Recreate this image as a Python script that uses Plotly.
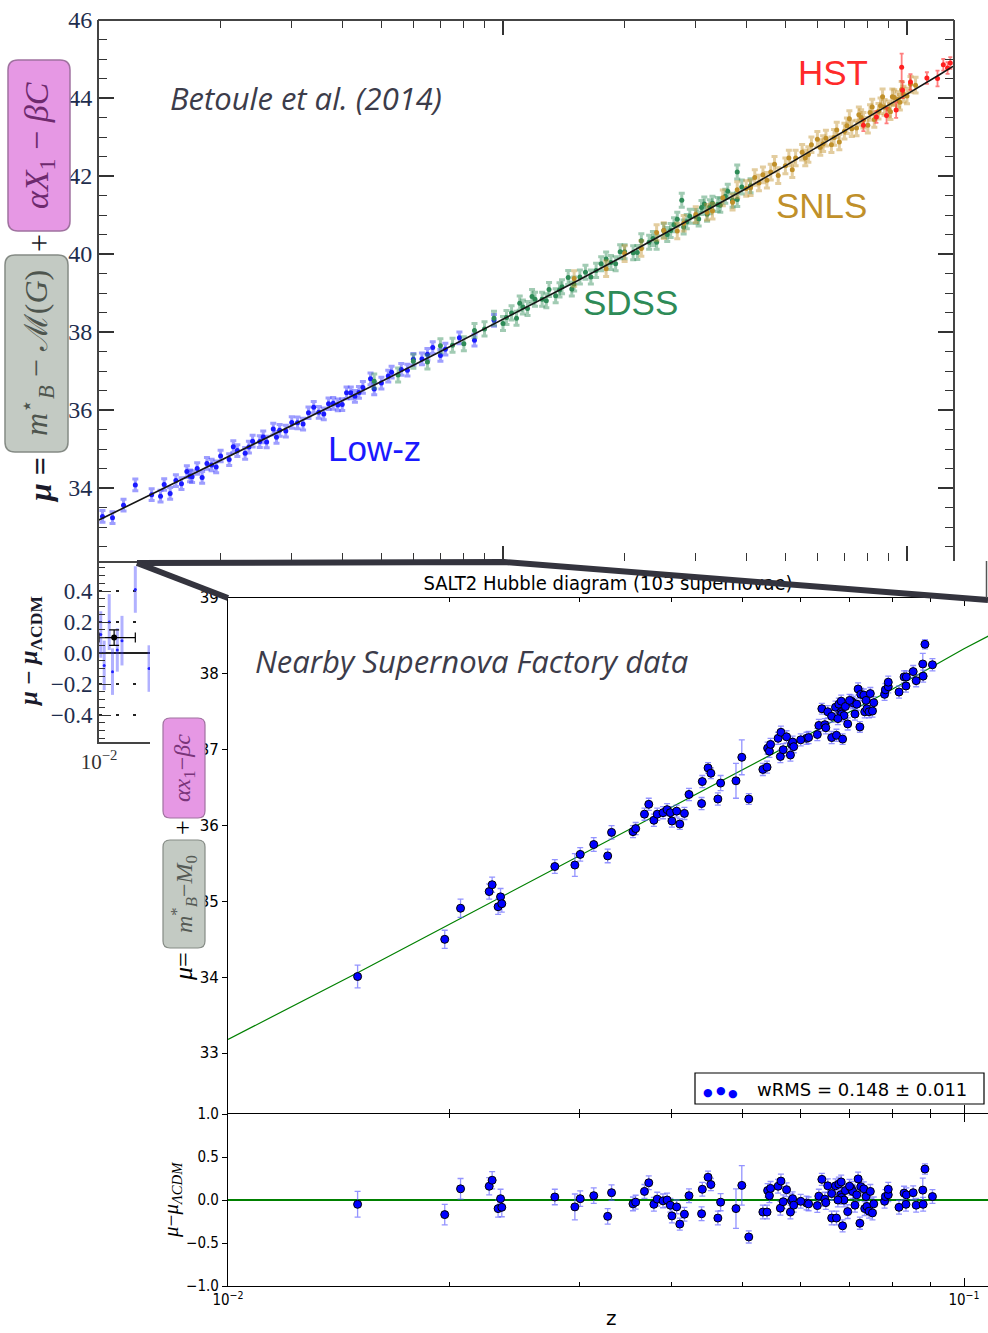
import plotly.graph_objects as go

W, H = 988, 1333


def px(x):
    return x / W


def py(y):
    return 1 - y / H


# ---------------- Betoule et al. (2014) : top Hubble diagram ----------------
LINE_Z = [0.01, 0.015, 0.02, 0.03, 0.04, 0.05, 0.07, 0.1, 0.15, 0.2, 0.3, 0.4, 0.5,
          0.6, 0.7, 0.8, 0.9, 1.0, 1.2, 1.3]
LINE_MU = [33.18, 34.07, 34.70, 35.59, 36.24, 36.73, 37.50, 38.32, 39.27, 39.96, 40.96,
           41.68, 42.26, 42.74, 43.15, 43.50, 43.82, 44.10, 44.59, 44.81]

LOWZ_Z = [0.0102, 0.0108, 0.0115, 0.0123, 0.0135, 0.0142, 0.0145, 0.015, 0.0155, 0.016,
          0.0165, 0.0168, 0.017, 0.0175, 0.018, 0.0185, 0.019, 0.0195, 0.020, 0.021,
          0.0215, 0.022, 0.023, 0.0235, 0.024, 0.025, 0.0255, 0.026, 0.027, 0.0275,
          0.028, 0.029, 0.030, 0.031, 0.032, 0.033, 0.034, 0.035, 0.036, 0.037,
          0.038, 0.039, 0.040, 0.041, 0.042, 0.043, 0.044, 0.045, 0.047, 0.048,
          0.050, 0.052, 0.053, 0.056, 0.058, 0.060, 0.063, 0.065, 0.067, 0.070,
          0.072, 0.078, 0.085, 0.095]
LOWZ_MU = [33.27, 33.24, 33.56, 34.08, 33.83, 33.79, 34.09, 33.86, 34.19, 34.11,
           34.42, 34.31, 34.29, 34.50, 34.27, 34.63, 34.59, 34.54, 34.82, 34.73,
           35.06, 34.96, 34.89, 35.05, 35.20, 35.19, 35.31, 35.18, 35.51, 35.30,
           35.48, 35.46, 35.68, 35.67, 35.64, 35.93, 36.07, 35.94, 35.90, 36.16,
           36.17, 36.13, 36.14, 36.44, 36.44, 36.35, 36.45, 36.58, 36.80, 36.54,
           36.69, 36.87, 36.97, 37.04, 37.02, 37.30, 37.31, 37.43, 37.60, 37.40,
           37.56, 37.85, 37.79, 38.30]

SDSS_Z = [0.048, 0.055, 0.06, 0.065, 0.07, 0.075, 0.08, 0.085, 0.09, 0.095,
          0.1, 0.102, 0.105, 0.108, 0.11, 0.112, 0.115, 0.118, 0.12, 0.125,
          0.128, 0.13, 0.135, 0.138, 0.14, 0.145, 0.148, 0.15, 0.155, 0.16,
          0.165, 0.17, 0.175, 0.18, 0.185, 0.19, 0.195, 0.2, 0.21, 0.215,
          0.22, 0.23, 0.235, 0.24, 0.25, 0.255, 0.26, 0.265, 0.27, 0.277,
          0.28, 0.285, 0.29, 0.3, 0.305, 0.31, 0.315, 0.32, 0.325, 0.33,
          0.34, 0.345, 0.355, 0.36, 0.37, 0.38, 0.38, 0.39, 0.41]
SDSS_MU = [36.74, 36.90, 37.25, 37.23, 37.65, 37.66, 37.70, 38.04, 38.08, 38.35,
           38.22, 38.37, 38.49, 38.35, 38.74, 38.64, 38.60, 38.91, 38.84, 38.84,
           38.80, 39.09, 38.93, 39.08, 39.16, 39.40, 39.10, 39.23, 39.41, 39.53,
           39.41, 39.58, 39.75, 39.87, 39.78, 39.75, 40.06, 40.06, 40.03, 40.04,
           40.34, 40.30, 40.40, 40.30, 40.60, 40.50, 40.60, 40.75, 40.89, 41.38,
           40.69, 40.83, 40.97, 40.96, 40.90, 41.19, 41.28, 41.02, 41.21, 41.30,
           41.27, 41.25, 41.48, 41.61, 41.38, 41.40, 42.10, 41.72, 41.75]

SNLS_Z = [0.15, 0.18, 0.2, 0.22, 0.24, 0.25, 0.27, 0.28, 0.3, 0.32,
          0.33, 0.35, 0.37, 0.38, 0.4, 0.41, 0.42, 0.43, 0.44, 0.45,
          0.46, 0.47, 0.48, 0.5, 0.51, 0.52, 0.53, 0.55, 0.56, 0.57,
          0.58, 0.6, 0.61, 0.62, 0.63, 0.65, 0.66, 0.67, 0.68, 0.7,
          0.71, 0.72, 0.73, 0.75, 0.76, 0.77, 0.78, 0.8, 0.81, 0.82,
          0.83, 0.85, 0.86, 0.87, 0.88, 0.9, 0.91, 0.92, 0.93, 0.95,
          0.96, 0.97, 0.98, 1.0, 1.02, 1.05]
SNLS_MU = [39.37, 39.62, 40.01, 40.14, 40.55, 40.60, 40.59, 40.79, 41.01, 41.07,
           41.10, 41.44, 41.33, 41.65, 41.68, 41.70, 41.96, 41.82, 42.03, 41.89,
           42.10, 42.30, 42.01, 42.26, 42.46, 42.16, 42.46, 42.61, 42.46, 42.55,
           42.80, 42.94, 42.73, 42.83, 42.97, 42.80, 42.99, 43.18, 42.87, 43.15,
           43.29, 43.47, 43.21, 43.23, 43.57, 43.50, 43.43, 43.30, 43.63, 43.77,
           43.45, 43.66, 43.80, 44.03, 43.76, 43.72, 43.65, 44.03, 44.01, 43.96,
           43.89, 44.22, 44.10, 44.05, 44.35, 44.33]

HST_Z = [0.78, 0.84, 0.89, 0.94, 0.97, 0.975, 1.02, 1.12, 1.19, 1.23, 1.26, 1.28]
HST_MU = [43.30, 43.51, 43.55, 43.69, 44.79, 44.20, 44.41, 44.51, 44.50, 44.85, 44.77, 44.90]
HST_ERR = [0.15, 0.15, 0.20, 0.20, 0.35, 0.20, 0.20, 0.15, 0.20, 0.15, 0.15, 0.15]

LOWZ_ERR, SDSS_ERR, SNLS_ERR = 0.15, 0.18, 0.20

# Betoule residual panel (only the visible left strip)
BRES_Z = [0.0101, 0.0103, 0.0106, 0.0108, 0.0111, 0.0114, 0.0123, 0.0133]
BRES_R = [0.12, -0.08, 0.20, -0.12, 0.02, 0.08, 0.41, -0.10]
BRES_ERR = [0.15, 0.16, 0.18, 0.15, 0.14, 0.16, 0.15, 0.15]
BIN_Z = [0.0109]
BIN_R = [0.10]
BIN_ERR = [0.05]
BIN_ZLO = [0.0100]
BIN_ZHI = [0.0123]

# ---------------- Nearby Supernova Factory (SALT2 Hubble diagram) ----------------
SNF_LINE_Z = [0.01, 0.015, 0.02, 0.03, 0.04, 0.05, 0.06, 0.07, 0.08, 0.09, 0.1, 0.108]
SNF_LINE_MU = [33.18, 34.06, 34.70, 35.60, 36.24, 36.74, 37.14, 37.50, 37.80, 38.08, 38.33, 38.50]

SNF_Z = [0.0150, 0.0197, 0.0207, 0.02264, 0.02285, 0.02328, 0.02346, 0.02355, 0.0278, 0.0296,
         0.0301, 0.0314, 0.0328, 0.0332, 0.0355, 0.0358, 0.0368, 0.0373, 0.0379, 0.0383,
         0.0390, 0.0395, 0.0399, 0.0401, 0.0407, 0.0411, 0.0417, 0.0423, 0.0440, 0.0441,
         0.0449, 0.0453, 0.0463, 0.0467, 0.0490, 0.0499, 0.0510, 0.0533, 0.0540, 0.0541,
         0.0544, 0.0546, 0.0559, 0.0563, 0.0564, 0.0568, 0.0581, 0.0583, 0.0585, 0.0587,
         0.0611, 0.0615, 0.0632, 0.0635, 0.0641, 0.0647, 0.0649, 0.0653, 0.0661, 0.0661,
         0.0669, 0.0671, 0.0676, 0.0680, 0.0681, 0.0682, 0.0684, 0.0687, 0.0690, 0.0695,
         0.0703, 0.0706, 0.0711, 0.0718, 0.0722, 0.0724, 0.0731, 0.0733, 0.0736, 0.0738,
         0.0743, 0.0746, 0.0751, 0.0754, 0.0780, 0.0782, 0.0789, 0.0789, 0.0816, 0.0829,
         0.0834, 0.0835, 0.0853, 0.0861, 0.0879, 0.0880, 0.0885, 0.0906,
         0.0674, 0.0699, 0.0715, 0.0600, 0.0574]
SNF_MU = [34.01, 34.50, 34.91, 35.13, 35.22, 34.93, 35.06, 34.97, 35.46, 35.48,
          35.62, 35.75, 35.60, 35.91, 35.92, 35.96, 36.15, 36.28, 36.07, 36.15,
          36.17, 36.21, 36.17, 36.06, 36.19, 36.02, 36.16, 36.41, 36.29, 36.58,
          36.76, 36.69, 36.35, 36.56, 36.59, 36.90, 36.35, 36.74, 36.77, 37.02,
          36.98, 37.07, 37.15, 36.91, 37.23, 37.00, 36.93, 37.07, 37.10, 37.04,
          37.15, 37.16, 37.20, 37.32, 37.54, 37.33, 37.29, 37.50, 37.44, 37.16,
          37.56, 37.19, 37.60, 37.49, 37.64, 37.47, 37.14, 37.45, 37.57, 37.34,
          37.64, 37.62, 37.47, 37.80, 37.30, 37.73, 37.72, 37.50, 37.65, 37.54,
          37.50, 37.74, 37.51, 37.62, 37.73, 37.79, 37.83, 37.89, 37.76, 37.96,
          37.84, 37.96, 38.03, 37.91, 38.13, 37.97, 38.39, 38.12,
          37.41, 37.65, 37.60, 37.13, 37.17]
SNF_RESID = [-0.05, -0.17, 0.13, 0.16, 0.23, -0.10, 0.015, -0.085, 0.035, -0.08,
             0.015, 0.05, -0.19, 0.085, -0.045, -0.025, 0.10, 0.20, -0.05, 0.01,
             -0.01, 0.0, -0.06, -0.185, -0.08, -0.28, -0.165, 0.05, -0.16, 0.125,
             0.265, 0.18, -0.21, -0.025, -0.10, 0.17, -0.43, -0.14, -0.14, 0.11,
             0.05, 0.135, 0.16, -0.095, 0.22, -0.02, -0.14, -0.01, 0.015, -0.06,
             -0.035, -0.045, -0.065, 0.045, 0.24, 0.01, -0.03, 0.165, 0.075, -0.21,
             0.165, -0.21, 0.185, 0.06, 0.21, 0.03, -0.30, 0.0, 0.11, -0.135,
             0.135, 0.10, -0.06, 0.245, -0.27, 0.155, 0.13, -0.10, 0.04, -0.075,
             -0.13, 0.10, -0.15, -0.045, -0.015, 0.04, 0.06, 0.125, -0.085, 0.08,
             -0.05, 0.06, 0.085, -0.06, 0.115, -0.05, 0.36, 0.04,
             0.0, 0.16, 0.06, -0.015, 0.12]
SNF_ERR = [0.15, 0.12, 0.12, 0.10, 0.10, 0.10, 0.11, 0.11, 0.09, 0.15,
           0.09, 0.09, 0.09, 0.09, 0.08, 0.08, 0.08, 0.08, 0.08, 0.08,
           0.08, 0.08, 0.08, 0.08, 0.08, 0.07, 0.08, 0.08, 0.08, 0.08,
           0.07, 0.07, 0.08, 0.10, 0.23, 0.23, 0.07, 0.08, 0.08, 0.08,
           0.08, 0.08, 0.08, 0.08, 0.08, 0.08, 0.08, 0.08, 0.08, 0.08,
           0.08, 0.08, 0.08, 0.08, 0.07, 0.08, 0.08, 0.08, 0.08, 0.08,
           0.08, 0.08, 0.08, 0.08, 0.08, 0.08, 0.07, 0.08, 0.08, 0.08,
           0.08, 0.08, 0.08, 0.08, 0.07, 0.08, 0.08, 0.08, 0.08, 0.08,
           0.08, 0.08, 0.08, 0.08, 0.08, 0.08, 0.08, 0.08, 0.08, 0.08,
           0.08, 0.08, 0.08, 0.08, 0.14, 0.08, 0.06, 0.08,
           0.08, 0.08, 0.08, 0.08, 0.08]

SNF_TITLE = "SALT2 Hubble diagram (103 supernovae)"
WRMS_TEXT = "wRMS = 0.148 \u00b1 0.011"

# ---------------------------------------------------------------------------
fig = go.Figure()

samples = [
    (LOWZ_Z, LOWZ_MU, LOWZ_ERR, "#1a1aff", "rgba(40,40,255,0.45)"),
    (SDSS_Z, SDSS_MU, SDSS_ERR, "#2e8b57", "rgba(46,139,87,0.45)"),
    (SNLS_Z, SNLS_MU, SNLS_ERR, "#c0902a", "rgba(192,144,42,0.45)"),
]
for zz, mm, ee, col, ecol in samples:
    fig.add_trace(go.Scatter(
        x=zz, y=mm, mode="markers", xaxis="x", yaxis="y",
        marker=dict(size=5, color=col, line=dict(width=0)),
        error_y=dict(type="constant", value=ee, color=ecol, thickness=3, width=3),
        hoverinfo="skip"))
fig.add_trace(go.Scatter(
    x=HST_Z, y=HST_MU, mode="markers", xaxis="x", yaxis="y",
    marker=dict(size=5, color="#ff2020"),
    error_y=dict(type="data", array=HST_ERR, color="rgba(255,40,40,0.6)", thickness=1.8, width=2),
    hoverinfo="skip"))
fig.add_trace(go.Scatter(x=LINE_Z, y=LINE_MU, mode="lines", xaxis="x", yaxis="y",
                         line=dict(color="#151515", width=1.6), hoverinfo="skip"))

# Betoule residual strip
fig.add_trace(go.Scatter(
    x=BRES_Z, y=BRES_R, mode="markers", xaxis="x2", yaxis="y2",
    marker=dict(size=3, color="#2020ff"),
    error_y=dict(type="data", array=BRES_ERR, color="rgba(60,60,255,0.4)", thickness=3, width=0),
    hoverinfo="skip"))
fig.add_trace(go.Scatter(
    x=BIN_Z, y=BIN_R, mode="markers", xaxis="x2", yaxis="y2",
    marker=dict(size=6, color="black"),
    error_y=dict(type="data", array=BIN_ERR, color="black", thickness=1.2, width=5),
    error_x=dict(type="data", symmetric=False,
                 array=[BIN_ZHI[0] - BIN_Z[0]], arrayminus=[BIN_Z[0] - BIN_ZLO[0]],
                 color="black", thickness=1.2, width=5),
    hoverinfo="skip"))

# SNfactory main panel
fig.add_trace(go.Scatter(x=SNF_LINE_Z, y=SNF_LINE_MU, mode="lines", xaxis="x3", yaxis="y3",
                         line=dict(color="#008000", width=1.2), hoverinfo="skip"))
fig.add_trace(go.Scatter(
    x=SNF_Z, y=SNF_MU, mode="markers", xaxis="x3", yaxis="y3",
    marker=dict(size=8, color="#0000ff", line=dict(color="black", width=1)),
    error_y=dict(type="data", array=SNF_ERR, color="rgba(90,90,255,0.65)", thickness=1.3, width=3),
    hoverinfo="skip"))
# SNfactory residual panel
fig.add_trace(go.Scatter(
    x=SNF_Z, y=SNF_RESID, mode="markers", xaxis="x4", yaxis="y4",
    marker=dict(size=8, color="#0000ff", line=dict(color="black", width=1)),
    error_y=dict(type="data", array=SNF_ERR, color="rgba(90,90,255,0.65)", thickness=1.3, width=3),
    hoverinfo="skip"))
# SNfactory title, drawn in a hidden strip so the callout passes over it
fig.add_trace(go.Scatter(
    x=[0.5], y=[0.5], mode="text", xaxis="x5", yaxis="y5",
    text=[SNF_TITLE], textposition="middle center", cliponaxis=False,
    textfont=dict(family="DejaVu Sans Condensed, DejaVu Sans", size=20, color="black"),
    hoverinfo="skip"))

minor_top = [m * 10 ** e for e in (-2, -1) for m in range(2, 10)]
minor_snf = [m * 0.01 for m in range(2, 10)]
LOGR_TOP = [-2, -2 + (953 - 99) / 404]
LOGR_RES = [-2, -2 + (150 - 99) / 404]
LOGR_SNF = [-2, -2 + (988 - 228) / 736]

serif = "Liberation Serif, DejaVu Serif, serif"
navy = "#1e2d4d"

fig.update_layout(
    width=W, height=H, margin=dict(l=0, r=0, t=0, b=0, autoexpand=False),
    paper_bgcolor="white", plot_bgcolor="rgba(0,0,0,0)", showlegend=False,
    xaxis=dict(domain=[px(99), px(953)], type="log", range=LOGR_TOP, anchor="y",
               automargin=False,
               showticklabels=False, ticks="inside", tickvals=[0.01, 0.1, 1.0], ticklen=15,
               tickwidth=1.5, tickcolor="#333", mirror="ticks", showline=False,
               showgrid=False, zeroline=False,
               minor=dict(ticks="inside", tickvals=minor_top, ticklen=8, tickcolor="#333",
                          tickwidth=1.2, showgrid=False)),
    yaxis=dict(domain=[py(561), py(20)], range=[46 - (561 - 20) / 39, 46], anchor="x",
               automargin=False,
               tickvals=list(range(34, 47, 2)), ticks="inside", ticklen=15, tickwidth=1.5,
               tickcolor="#333", mirror="ticks", showline=True, linecolor="#444", linewidth=2,
               minor=dict(ticks="inside", dtick=0.5, tick0=0, ticklen=8, tickcolor="#333",
                          tickwidth=1.2),
               tickfont=dict(family=serif, size=24, color=navy),
               showgrid=False, zeroline=False),
    xaxis2=dict(domain=[px(99), px(150)], type="log", range=LOGR_RES, anchor="y2",
                automargin=False,
                tickvals=[0.01], ticktext=["10<sup>\u22122</sup>"], ticks="inside", ticklen=12,
                tickcolor="#333", showline=True, linecolor="#444", linewidth=2,
                tickfont=dict(family=serif, size=21, color="#333"), showgrid=False,
                zeroline=False),
    yaxis2=dict(domain=[py(742), py(561)], range=[-0.574, 0.594], anchor="x2",
                automargin=False,
                tickvals=[-0.4, -0.2, 0, 0.2, 0.4], tickformat=".1f", ticks="inside",
                ticklen=12, tickcolor="#333", showline=True, linecolor="#444", linewidth=2,
                minor=dict(ticks="inside", dtick=0.05, ticklen=6, tickcolor="#333"),
                showgrid=True, gridcolor="#222", griddash="3px,14px", gridwidth=2,
                zeroline=True, zerolinecolor="#222", zerolinewidth=1.5,
                tickfont=dict(family=serif, size=23, color=navy)),
    xaxis3=dict(domain=[px(228), 1], type="log", range=LOGR_SNF, anchor="y3",
                automargin=False,
                showticklabels=False, tickvals=[0.01, 0.1], ticks="inside", ticklen=8,
                tickcolor="black", mirror="ticks", showline=True, linecolor="black",
                linewidth=1.3, minor=dict(ticks="inside", tickvals=minor_snf, ticklen=4,
                                          tickcolor="black"),
                showgrid=False, zeroline=False),
    yaxis3=dict(domain=[py(1113), py(598)], range=[33 - (1113 - 1053) / 76, 39.0], anchor="x3",
                automargin=False,
                tickvals=list(range(33, 40)), ticks="outside", ticklen=5, tickcolor="black",
                showline=True, mirror=True, linecolor="black", linewidth=1.3,
                tickfont=dict(family="DejaVu Sans", size=15, color="black"),
                showgrid=False, zeroline=False),
    xaxis4=dict(domain=[px(228), 1], type="log", range=LOGR_SNF, anchor="y4",
                automargin=False,
                tickvals=[0.01, 0.1], ticktext=["10<sup>\u22122</sup>", "10<sup>\u22121</sup>"],
                ticks="inside", ticklen=8, tickcolor="black", mirror="ticks", showline=True,
                linecolor="black", linewidth=1.3,
                minor=dict(ticks="inside", tickvals=minor_snf, ticklen=4, tickcolor="black"),
                tickfont=dict(family="DejaVu Sans Condensed, DejaVu Sans", size=15, color="black"),
                showgrid=False, zeroline=False),
    yaxis4=dict(domain=[py(1286), py(1114)], range=[-1, 1], anchor="x4",
                automargin=False,
                tickvals=[-1, -0.5, 0, 0.5, 1], tickformat=".1f", ticks="outside", ticklen=5,
                tickcolor="black", showline=True, mirror=True, linecolor="black", linewidth=1.3,
                tickfont=dict(family="DejaVu Sans Condensed, DejaVu Sans", size=15, color="black"),
                showgrid=False, zeroline=True, zerolinecolor="#008000", zerolinewidth=1.6),
    xaxis5=dict(domain=[px(228), 1], range=[0, 1], anchor="y5", visible=False,
                automargin=False, fixedrange=True),
    yaxis5=dict(domain=[py(598), py(572)], range=[0, 1], anchor="x5", visible=False,
                automargin=False, fixedrange=True),
)


def rounded(x0, y0, x1, y1, r):
    """rounded rectangle path in paper coords from pixel corners"""
    def P(x, y):
        return f"{px(x):.5f},{py(y):.5f}"
    pts = ["M " + P(x0 + r, y0), "L " + P(x1 - r, y0), "Q " + P(x1, y0) + " " + P(x1, y0 + r),
           "L " + P(x1, y1 - r), "Q " + P(x1, y1) + " " + P(x1 - r, y1),
           "L " + P(x0 + r, y1), "Q " + P(x0, y1) + " " + P(x0, y1 - r),
           "L " + P(x0, y0 + r), "Q " + P(x0, y0) + " " + P(x0 + r, y0)]
    return " ".join(pts) + " Z"


shapes = []
GRAY_FILL, GRAY_LINE = "#c3cac3", "#858b85"
PINK_FILL, PINK_LINE = "#e698e4", "#a072a0"
# label boxes (top figure)
shapes.append(dict(type="path", path=rounded(5, 255, 68, 452, 10), xref="paper", yref="paper",
                   fillcolor=GRAY_FILL, line=dict(color=GRAY_LINE, width=1.5), layer="above"))
shapes.append(dict(type="path", path=rounded(8, 60, 70, 231, 10), xref="paper", yref="paper",
                   fillcolor=PINK_FILL, line=dict(color=PINK_LINE, width=1.5), layer="above"))
# label boxes (SNfactory figure)
shapes.append(dict(type="path", path=rounded(163, 840, 205, 948, 7), xref="paper", yref="paper",
                   fillcolor=GRAY_FILL, line=dict(color=GRAY_LINE, width=1.2), layer="above"))
shapes.append(dict(type="path", path=rounded(163, 718, 205, 818, 7), xref="paper", yref="paper",
                   fillcolor=PINK_FILL, line=dict(color=PINK_LINE, width=1.2), layer="above"))
# top frame of Betoule plot
shapes.append(dict(type="line", xref="paper", yref="paper", x0=px(98), x1=px(954), y0=py(20), y1=py(20),
                   line=dict(color="#444", width=2), layer="above"))
# top of Betoule residual strip
shapes.append(dict(type="line", xref="paper", yref="paper", x0=px(98), x1=px(140), y0=py(562), y1=py(562),
                   line=dict(color="#444", width=2), layer="above"))
# callout connector
CONN = "#34343e"
shapes.append(dict(type="path", xref="paper", yref="paper",
                   path=f"M {px(137)},{py(563)} L {px(504)},{py(562)} L {px(988)},{py(600)}",
                   line=dict(color=CONN, width=6), layer="above"))
shapes.append(dict(type="line", xref="paper", yref="paper", x0=px(137), y0=py(563), x1=px(228), y1=py(598),
                   line=dict(color=CONN, width=6), layer="above"))
shapes.append(dict(type="line", xref="paper", yref="paper", x0=px(986.5), y0=py(561), x1=px(986.5), y1=py(598),
                   line=dict(color="#555", width=1.5), layer="above"))
# legend box
shapes.append(dict(type="rect", xref="paper", yref="paper", x0=px(695), x1=px(984), y0=py(1104), y1=py(1073),
                   fillcolor="white", line=dict(color="black", width=1.2), layer="above"))
fig.update_layout(shapes=shapes)

anns = []


def ann(x, y, text, size, color="black", family=serif, angle=0, xanchor="center",
        style="normal", weight="normal"):
    anns.append(dict(x=px(x), y=py(y), xref="paper", yref="paper", text=text, showarrow=False,
                     xanchor=xanchor, yanchor="middle", textangle=angle,
                     font=dict(family=family, size=size, color=color, style=style, weight=weight)))


italic_font = "Open Sans, Lato, DejaVu Sans"
ann(168, 98, "Betoule et al. (2014)", 31, "#3c3c4a", italic_font, xanchor="left", style="italic")
ann(253, 661, "Nearby Supernova Factory data", 31, "#3c3c4a", italic_font, xanchor="left", style="italic")
sans = "Liberation Sans, Arial, sans-serif"
ann(833, 72, "HST", 35, "#ff2a2a", sans)
ann(821, 205, "SNLS", 35, "#c0902a", sans)
ann(630, 302, "SDSS", 35, "#2e8b57", sans)
ann(374, 448, "Low-z", 35, "#1a1aff", sans)

# top-left y label
ann(40, 480, "<b><i>\u03bc</i> =</b>", 32, "#1a1a2a", serif, angle=-90)
ann(37, 353, "<i>m</i><sup>\u22c6</sup><sub><i>B</i></sub> \u2212 \u2133(<i>G</i>)", 32, "#4e554e", serif, angle=-90)
ann(39, 243, "+", 32, "#1a1a2a", serif, angle=-90)
ann(39, 146, "<i>\u03b1X</i><sub>1</sub> \u2212 <i>\u03b2C</i>", 34, "#6e2a6e", serif, angle=-90)
# Betoule residual y label
ann(30, 652, "<b><i>\u03bc</i> \u2212 <i>\u03bc</i><sub>\u039bCDM</sub></b>", 25, "#1a1a2a", serif, angle=-90)

# SNfactory y labels
ann(183, 967, "<i>\u03bc</i>=", 26, "black", serif, angle=-90)
ann(184, 894, "<i>m</i><sup>*</sup><sub><i>B</i></sub>\u2212<i>M</i><sub>0</sub>", 24, "#555a55", serif, angle=-90)
ann(183, 828, "+", 26, "black", serif, angle=-90)
ann(184, 768, "<i>\u03b1x</i><sub>1</sub>\u2212<i>\u03b2c</i>", 24, "#7a357a", serif, angle=-90)
ann(172, 1200, "<i>\u03bc</i>\u2212<i>\u03bc</i><sub><i>\u039bCDM</i></sub>", 21, "black", serif, angle=-90)
ann(611, 1318, "z", 20, "black", "DejaVu Sans")

# legend content
ann(708, 1092, "\u25cf", 11, "#0000ff", "DejaVu Sans")
ann(721, 1090, "\u25cf", 11, "#0000ff", "DejaVu Sans")
ann(733, 1093, "\u25cf", 11, "#0000ff", "DejaVu Sans")
ann(755, 1089, WRMS_TEXT, 18, "black", "DejaVu Sans", xanchor="left")

fig.update_layout(annotations=anns)

fig.write_html("out.html")
